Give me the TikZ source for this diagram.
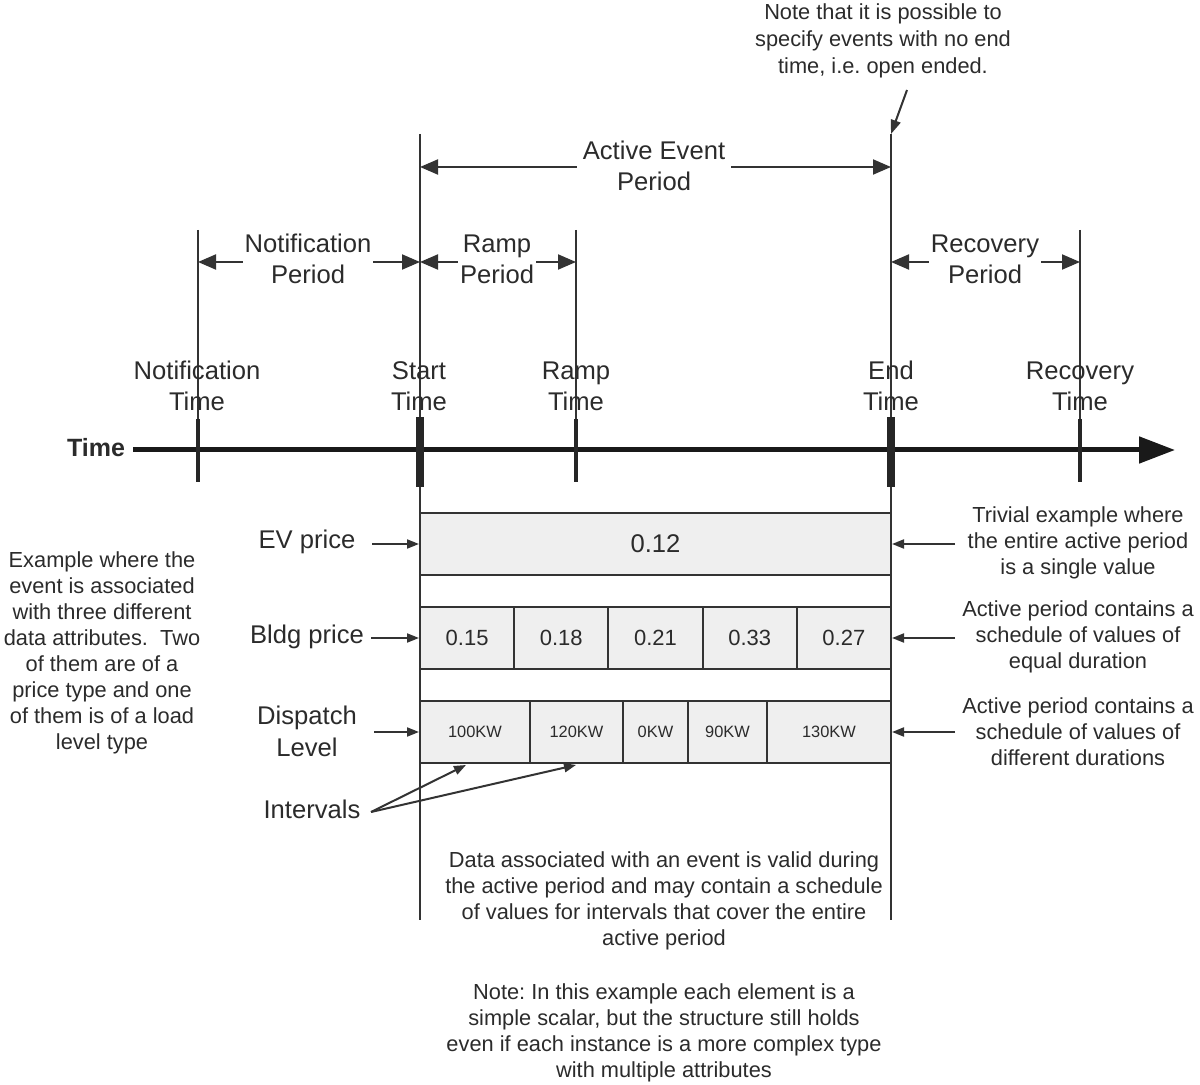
\documentclass[tikz,border=0pt]{standalone}
\usepackage{fontspec}
\setmainfont{Liberation Sans}
\usetikzlibrary{arrows.meta}
\definecolor{txt}{HTML}{2B2B2B}
\definecolor{lin}{HTML}{333333}
\definecolor{cellfill}{HTML}{EFEFEF}
\frenchspacing
\begin{document}
\begin{tikzpicture}[x=0.5pt,y=-0.5pt,
  lab/.style={font=\fontsize{12.8}{15.5}\selectfont, align=center, text=txt, inner sep=1pt},
  note/.style={font=\fontsize{10.9}{13}\selectfont, align=center, text=txt, inner sep=1pt},
  thinln/.style={draw=lin, line width=1pt},
  tickthin/.style={draw=black!85, line width=2pt},
  tickthick/.style={draw=black!85, line width=4pt},
  per/.style={draw=lin, line width=1pt, {Triangle[length=9pt,width=7.5pt]}-{Triangle[length=9pt,width=7.5pt]}},
  sarr/.style={draw=lin, line width=1pt, -{Triangle[length=6pt,width=4.5pt]}},
  cellbox/.style={draw=lin, line width=1pt, fill=cellfill, inner sep=0pt, minimum height=31pt, text=txt}
]
\useasboundingbox (0,0) rectangle (1200,1085);

% ---- vertical lines
\coordinate (NotTop) at (198,230); \coordinate (NotTk) at (198,419); \coordinate (NotBot) at (198,482);
\coordinate (StTop) at (420,134); \coordinate (StTk) at (420,417); \coordinate (StTkB) at (420,487); \coordinate (StBot) at (420,920);
\coordinate (RaTop) at (576,230); \coordinate (RaTk) at (576,419); \coordinate (RaBot) at (576,482);
\coordinate (EnTop) at (891,134); \coordinate (EnTk) at (891,417); \coordinate (EnTkB) at (891,487); \coordinate (EnBot) at (891,920);
\coordinate (ReTop) at (1080,230); \coordinate (ReTk) at (1080,419); \coordinate (ReBot) at (1080,482);

\draw[thinln] (NotTop) -- (NotTk);
\draw[thinln] (StTop) -- (StBot);
\draw[thinln] (RaTop) -- (RaTk);
\draw[thinln] (EnTop) -- (EnBot);
\draw[thinln] (ReTop) -- (ReTk);

% ---- time axis
\node[font=\fontsize{12.5}{15}\selectfont\bfseries, text=txt, inner sep=1pt] (tl) at (96,448) {Time};
\coordinate (AxE) at (1175,450);
\draw[draw=black!90, line width=2.5pt, -{Triangle[length=18pt,width=13pt]}] (tl.east) ++(6,2) -- (AxE);

\draw[tickthin] (NotTk) -- (NotBot);
\draw[tickthick] (StTk) -- (StTkB);
\draw[tickthin] (RaTk) -- (RaBot);
\draw[tickthick] (EnTk) -- (EnTkB);
\draw[tickthin] (ReTk) -- (ReBot);

% ---- time labels
\node[lab] (tNot) at (197,386) {Notification\\Time};
\node[lab] (tSt) at (419,386) {Start\\Time};
\node[lab] (tRa) at (576,386) {Ramp\\Time};
\node[lab] (tEn) at (891,386) {End\\Time};
\node[lab] (tRe) at (1080,386) {Recovery\\Time};

% ---- period arrows
\coordinate (pNa) at (198,262); \coordinate (pNb) at (420,262);
\coordinate (pRa) at (420,262); \coordinate (pRb) at (576,262);
\coordinate (pVa) at (891,262); \coordinate (pVb) at (1080,262);
\coordinate (pAa) at (420,167); \coordinate (pAb) at (891,167);
\draw[per] (pNa) -- (pNb);
\draw[per] (pRa) -- (pRb);
\draw[per] (pVa) -- (pVb);
\draw[per] (pAa) -- (pAb);
\node[lab, fill=white] (lNot) at (308,259) {Notification\\Period};
\node[lab, fill=white] (lRa) at (497,259) {Ramp\\Period};
\node[lab, fill=white] (lRe) at (985,259) {Recovery\\Period};
\node[lab, fill=white, inner xsep=3pt] (lAc) at (654,166) {Active Event\\Period};

% ---- top note
\node[note, font=\fontsize{10.9}{13.5}\selectfont] (topnote) at (883,41) {Note that it is possible to\\specify events with no end\\time, i.e. open ended.};
\coordinate (nA) at (907,90);
\draw[draw=lin, line width=1pt, -{Triangle[length=7pt,width=5pt]}] (nA) -- (EnTop);

% ---- data rows
\node[cellbox, minimum width=235.5pt, font=\fontsize{12.8}{15}\selectfont] (ev) at (655.5,544) {0.12};

\node[cellbox, minimum width=47.1pt, font=\fontsize{11}{13}\selectfont] (b1) at (467.1,638) {0.15};
\node[cellbox, minimum width=47.1pt, font=\fontsize{11}{13}\selectfont] (b2) at (561.3,638) {0.18};
\node[cellbox, minimum width=47.1pt, font=\fontsize{11}{13}\selectfont] (b3) at (655.5,638) {0.21};
\node[cellbox, minimum width=47.1pt, font=\fontsize{11}{13}\selectfont] (b4) at (749.7,638) {0.33};
\node[cellbox, minimum width=47.1pt, font=\fontsize{11}{13}\selectfont] (b5) at (843.9,638) {0.27};

\node[cellbox, minimum width=55pt, font=\fontsize{8.2}{10}\selectfont] (d1) at (475,732) {100KW};
\node[cellbox, minimum width=46.5pt, font=\fontsize{8.2}{10}\selectfont] (d2) at (576.5,732) {120KW};
\node[cellbox, minimum width=32.5pt, font=\fontsize{8.2}{10}\selectfont] (d3) at (655.5,732) {0KW};
\node[cellbox, minimum width=39.5pt, font=\fontsize{8.2}{10}\selectfont] (d4) at (727.5,732) {90KW};
\node[cellbox, minimum width=62pt, font=\fontsize{8.2}{10}\selectfont] (d5) at (829,732) {130KW};

% ---- left labels
\node[lab] (evl) at (307,542) {EV price};
\node[lab] (bl) at (307,637) {Bldg price};
\node[lab, font=\fontsize{12.8}{16}\selectfont] (dl) at (307,731) {Dispatch\\Level};
\node[lab] (il) at (312,809) {Intervals};
\coordinate (evA) at (372,544);
\coordinate (bA) at (371,638);
\coordinate (dA) at (374,732);
\coordinate (iA) at (371,812);
\coordinate (iT1) at (466,765);
\coordinate (iT2) at (576,765);
\draw[sarr] (evA) -- (ev.west);
\draw[sarr] (bA) -- (b1.west);
\draw[sarr] (dA) -- (d1.west);
\draw[sarr] (iA) -- (iT1);
\draw[sarr] (iA) -- (iT2);

% ---- right notes
\node[note] (r1) at (1078,543) {Trivial example where\\the entire active period\\is a single value};
\node[note] (r2) at (1078,637) {Active period contains a\\schedule of values of\\equal duration};
\node[note] (r3) at (1078,732) {Active period contains a\\schedule of values of\\different durations};
\coordinate (rA1) at (955,544);
\coordinate (rA2) at (955,638);
\coordinate (rA3) at (955,732);
\draw[sarr] (rA1) -- (ev.east);
\draw[sarr] (rA2) -- (b5.east);
\draw[sarr] (rA3) -- (d5.east);

% ---- left note
\node[note] (lnote) at (102,653) {Example where the\\event is associated\\with three different\\data attributes.\ \ Two\\of them are of a\\price type and one\\of them is of a load\\level type};

% ---- bottom notes
\node[note] (bn1) at (664,901) {Data associated with an event is valid during\\the active period and may contain a schedule\\of values for intervals that cover the entire\\active period};
\node[note] (bn2) at (664,1033) {Note: In this example each element is a\\simple scalar, but the structure still holds\\even if each instance is a more complex type\\with multiple attributes};
\end{tikzpicture}
\end{document}
